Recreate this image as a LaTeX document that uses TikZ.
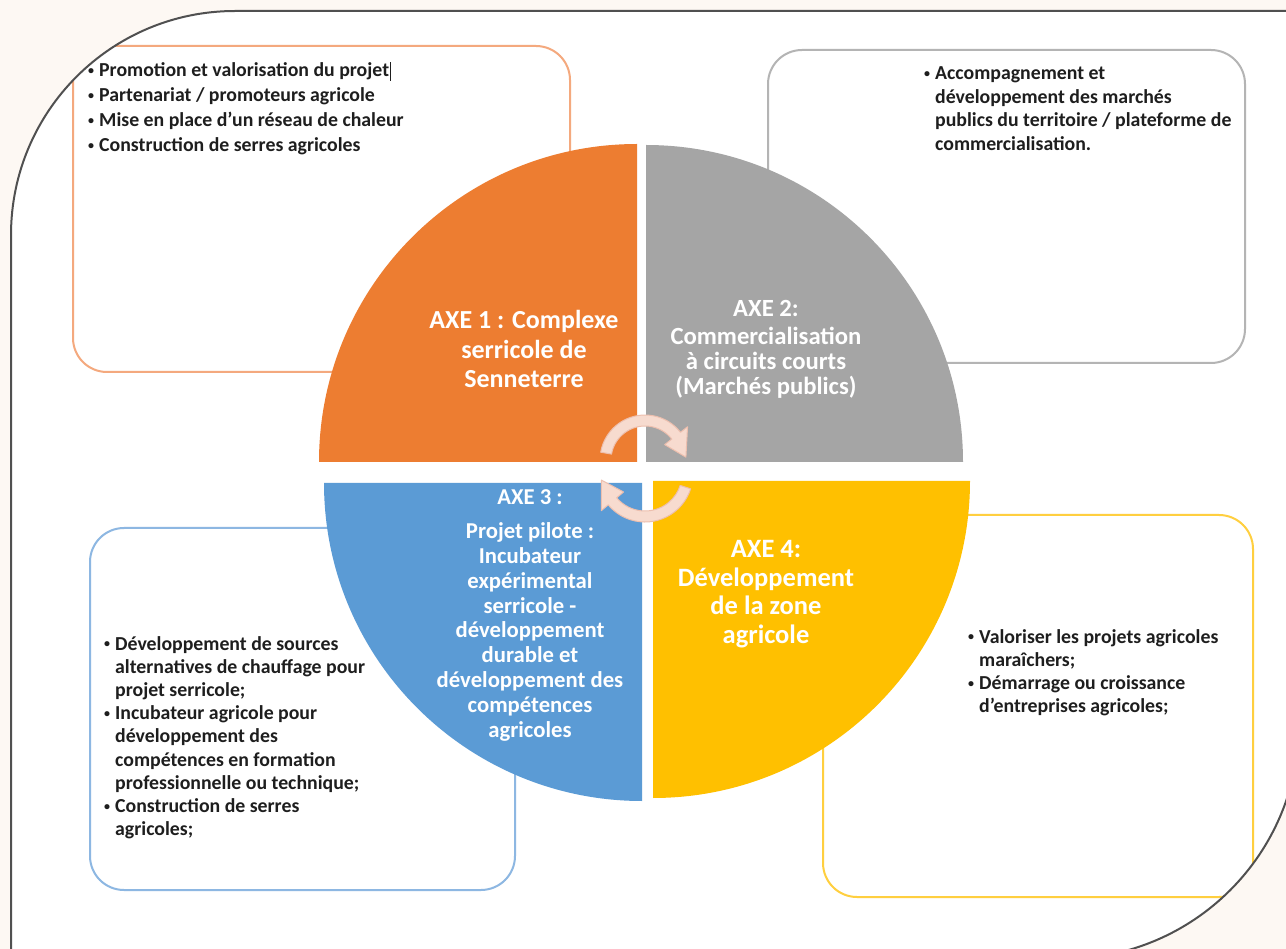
\documentclass[tikz,border=0pt]{standalone}
\usepackage{fontspec}
\setmainfont{Carlito}
\usetikzlibrary{calc}
\definecolor{bgcream}{HTML}{FDF8F3}
\definecolor{frameline}{HTML}{505050}
\definecolor{axorange}{HTML}{ED7D31}
\definecolor{axgray}{HTML}{A5A5A5}
\definecolor{axblue}{HTML}{5B9BD5}
\definecolor{axyellow}{HTML}{FFC000}
\definecolor{bxorange}{HTML}{F4A97E}
\definecolor{bxgray}{HTML}{B4B4B4}
\definecolor{bxblue}{HTML}{8DB7E2}
\definecolor{bxyellow}{HTML}{FFCF3F}
\definecolor{arrowfill}{HTML}{F7DBCF}
\definecolor{arrowline}{HTML}{EDBFAE}
\definecolor{textdark}{HTML}{1E1E1E}
\newcommand\bx{\makebox[11pt][l]{\raisebox{2.4pt}{\fontsize{12}{12}\selectfont •}}}
\newcommand\ix{\hspace*{11pt}}
\begin{document}
\begin{tikzpicture}[x=1pt,y=-1pt,
  infobox/.style={draw, line width=2pt, fill=white, rounded corners=34pt},
  boxtext/.style={inner sep=0pt, anchor=base west, text=textdark},
  axetext/.style={inner sep=0pt, anchor=base, text=white},
  cyclearrow/.style={fill=arrowfill, draw=arrowline, line width=1pt, line join=round}]
\useasboundingbox (0,0) rectangle (1286,949);
\fill[bgcream] (0,0) rectangle (1286,949);
% frame fill
\fill[white] (11,959) -- (11,235) arc[start angle=180,end angle=270,radius=224] -- (1299,11) -- (1299,724) arc[start angle=0,end angle=90,radius=235] -- cycle;
\begin{scope}
\clip (11,959) -- (11,235) arc[start angle=180,end angle=270,radius=224] -- (1299,11) -- (1299,724) arc[start angle=0,end angle=90,radius=235] -- cycle;
% info boxes
\draw[infobox, draw=bxorange] (73,46) rectangle (570,372);
\draw[infobox, draw=bxgray] (768,50) rectangle (1245,363);
\draw[infobox, draw=bxblue] (90,528) rectangle (515,890);
\draw[infobox, draw=bxyellow] (823,515) rectangle (1253,897);
% quarter discs
\fill[axorange] (637,462) -- (319,462) arc[start angle=180,end angle=270,radius=318] -- cycle;
\fill[axgray] (646,462) -- (646,145) arc[start angle=270,end angle=360,radius=317] -- cycle;
\fill[axblue] (642,483) -- (324,483) arc[start angle=180,end angle=90,radius=318] -- cycle;
\fill[axyellow] (653,481) -- (970,481) arc[start angle=0,end angle=90,radius=317] -- cycle;
% circular arrows
\coordinate (ta) at (645,460);
\coordinate (ba) at (645,474);
\path[cyclearrow] ($(ta)+(190:45)$) arc[start angle=190,end angle=322,radius=45]
  -- ($(ta)+(322:54)$) -- ($(ta)+(356:41)$) -- ($(ta)+(322:25)$) -- ($(ta)+(322:34)$)
  arc[start angle=322,end angle=190,radius=34] -- cycle;
\path[cyclearrow] ($(ba)+(18:48)$) arc[start angle=18,end angle=140,radius=48]
  -- ($(ba)+(140:57)$) -- ($(ba)+(172:44)$) -- ($(ba)+(140:28)$) -- ($(ba)+(140:37)$)
  arc[start angle=140,end angle=18,radius=37] -- cycle;
% axis titles
\node[axetext, font=\bfseries\fontsize{26}{29.5}\selectfont] (axe1) at (524,329)
  {\parbox[t]{300pt}{\centering AXE 1 : Complexe\\ serricole de\\ Senneterre}};
\node[axetext, font=\bfseries\fontsize{24.7}{25}\selectfont] (axe2) at (766,317)
  {\parbox[t]{300pt}{\centering AXE 2:\\[3pt] Commercialisation\\ à circuits courts\\ (Marchés publics)}};
\node[axetext, font=\bfseries\fontsize{22.7}{24.8}\selectfont] (axe3) at (530,505)
  {\parbox[t]{300pt}{\centering AXE 3 :\\[9pt] Projet pilote :\\ Incubateur\\ expérimental\\ serricole -\\ développement\\ durable et\\ développement des\\ compétences\\ agricoles}};
\node[axetext, font=\bfseries\fontsize{26.5}{28.5}\selectfont] (axe4) at (766,558)
  {\parbox[t]{300pt}{\centering AXE 4:\\ Développement\\ de la zone\\ agricole}};
% box texts
\node[boxtext, font=\bfseries\fontsize{19.8}{25}\selectfont] (txt1) at (88,77)
  {\parbox[t]{470pt}{\raggedright
  \bx Promotion et valorisation du projet\kern1pt\rule[-4pt]{1.2pt}{19pt}\\
  \bx Partenariat / promoteurs agricole\\
  \bx Mise en place d’un réseau de chaleur\\
  \bx Construction de serres agricoles}};
\node[boxtext, font=\bfseries\fontsize{19.8}{23.5}\selectfont] (txt2) at (924,80)
  {\parbox[t]{330pt}{\raggedright
  \bx Accompagnement et\\
  \ix développement des marchés\\
  \ix publics du territoire / plateforme de\\
  \ix commercialisation.}};
\node[boxtext, font=\bfseries\fontsize{19.8}{23.2}\selectfont] (txt3) at (104,650)
  {\parbox[t]{400pt}{\raggedright
  \bx Développement de sources\\
  \ix alternatives de chauffage pour\\
  \ix projet serricole;\\
  \bx Incubateur agricole pour\\
  \ix développement des\\
  \ix compétences en formation\\
  \ix professionnelle ou technique;\\
  \bx Construction de serres\\
  \ix agricoles;}};
\node[boxtext, font=\bfseries\fontsize{19.8}{23.3}\selectfont] (txt4) at (968,643)
  {\parbox[t]{300pt}{\raggedright
  \bx Valoriser les projets agricoles\\
  \ix maraîchers;\\
  \bx Démarrage ou croissance\\
  \ix d’entreprises agricoles;}};
\end{scope}
% frame outline
\draw[frameline, line width=2pt] (11,959) -- (11,235) arc[start angle=180,end angle=270,radius=224] -- (1299,11) -- (1299,724) arc[start angle=0,end angle=90,radius=235] -- cycle;
\end{tikzpicture}
\end{document}
